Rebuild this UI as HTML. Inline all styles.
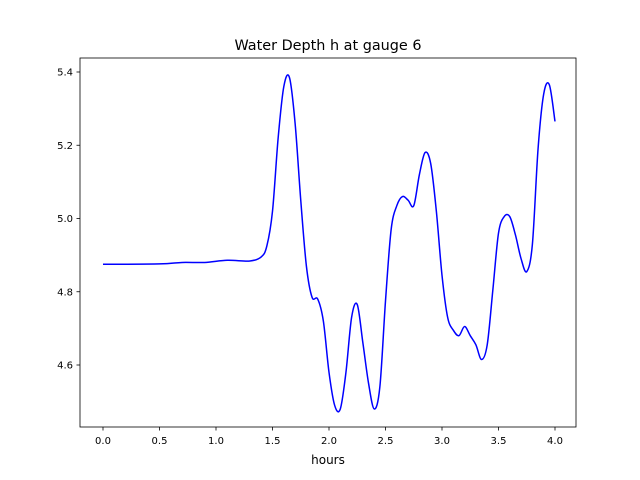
<!DOCTYPE html>
<html><head><meta charset="utf-8"><style>body{margin:0;background:#fff}svg{display:block;font-family:"DejaVu Sans","Liberation Sans",sans-serif}</style></head>
<body>
<svg id="chart" width="640" height="480">
<rect width="640" height="480" fill="#fff"/>
<text x="328" y="50" text-anchor="middle" font-size="14.4">Water Depth h at gauge 6</text>
<g id="axes"></g>
<text x="328" y="464" text-anchor="middle" font-size="12">hours</text>
</svg>
<script>
const times=[0,0.5,0.7,0.9,1.1,1.3,1.4,1.45,1.5,1.55,1.6,1.65,1.7,1.75,1.8,1.85,1.9,1.95,2.0,2.05,2.1,2.15,2.2,2.25,2.3,2.35,2.4,2.45,2.5,2.55,2.6,2.65,2.7,2.75,2.8,2.85,2.9,2.95,3.0,3.05,3.1,3.15,3.2,3.25,3.3,3.35,3.4,3.45,3.5,3.55,3.6,3.65,3.7,3.75,3.8,3.85,3.9,3.95,4.0];
const depth=[4.875,4.876,4.88,4.88,4.886,4.884,4.895,4.925,5.02,5.22,5.36,5.385,5.26,5.05,4.87,4.785,4.78,4.72,4.58,4.49,4.48,4.58,4.73,4.765,4.66,4.55,4.48,4.54,4.775,4.97,5.035,5.06,5.05,5.035,5.12,5.18,5.15,5.02,4.845,4.73,4.695,4.68,4.705,4.68,4.655,4.615,4.655,4.805,4.96,5.005,5.005,4.955,4.89,4.855,4.93,5.19,5.34,5.365,5.265];
const xTicks=[0,0.5,1,1.5,2,2.5,3,3.5,4];
const xTickLabels=["0.0","0.5","1.0","1.5","2.0","2.5","3.0","3.5","4.0"];
const yTicks=[4.6,4.8,5.0,5.2,5.4];
const yTickLabels=["4.6","4.8","5.0","5.2","5.4"];
const L=80,R=576,T=58,B=427;
const xs=t=>103+t*113;
const ys=v=>365-(v-4.6)*366.25;
const ns="http://www.w3.org/2000/svg";
const g=document.getElementById('axes');
function el(tag,attrs){const e=document.createElementNS(ns,tag);for(const k in attrs)e.setAttribute(k,attrs[k]);g.appendChild(e);return e;}
const pts=times.map((t,i)=>[xs(t),ys(depth[i])]);
let d=`M${pts[0][0]},${pts[0][1]}`;
for(let i=0;i<pts.length-1;i++){const p0=pts[Math.max(0,i-1)],p1=pts[i],p2=pts[i+1],p3=pts[Math.min(pts.length-1,i+2)];
d+=` C${p1[0]+(p2[0]-p0[0])/6},${p1[1]+(p2[1]-p0[1])/6} ${p2[0]-(p3[0]-p1[0])/6},${p2[1]-(p3[1]-p1[1])/6} ${p2[0]},${p2[1]}`;}
const line=el('path',{d:d,fill:'none',stroke:'#0000ff','stroke-width':1.5});


const frame=el('rect',{x:L,y:T,width:R-L,height:B-T,fill:'none',stroke:'#000','stroke-width':0.8});


xTicks.forEach((t,i)=>{const x=xs(t);
const tk=el('line',{x1:x,x2:x,y1:B,y2:B+3.5,stroke:'#000','stroke-width':0.8});


const tx=el('text',{x:x,y:B+17,'text-anchor':'middle','font-size':10});tx.textContent=xTickLabels[i];

});
yTicks.forEach((v,i)=>{const y=ys(v);
const tk=el('line',{x1:L-3.5,x2:L,y1:y,y2:y,stroke:'#000','stroke-width':0.8});


const tx=el('text',{x:L-7,y:y+3.5,'text-anchor':'end','font-size':10});tx.textContent=yTickLabels[i];

});
</script>
</body></html>
